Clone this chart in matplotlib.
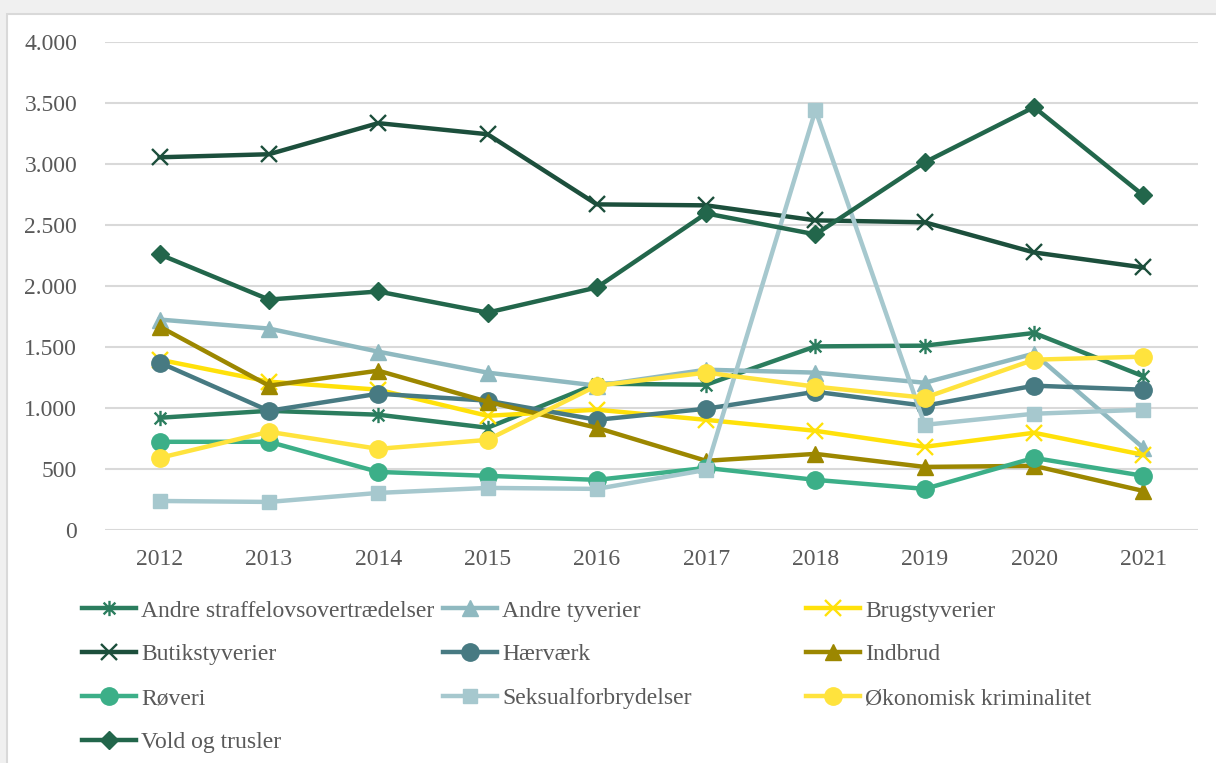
import numpy as np
import matplotlib.pyplot as plt
from matplotlib.patches import Rectangle
from matplotlib.lines import Line2D
from matplotlib.path import Path

plt.rcParams['font.family'] = ['Liberation Serif', 'DejaVu Serif']

years = ["2012", "2013", "2014", "2015", "2016", "2017", "2018", "2019", "2020", "2021"]

andre_straffelov = [920, 977, 945, 838, 1199, 1191, 1505, 1511, 1615, 1260]
andre_tyverier = [1725, 1651, 1462, 1290, 1183, 1314, 1290, 1207, 1446, 673]
brugstyverier = [1396, 1216, 1150, 936, 986, 903, 813, 682, 797, 616]
butikstyverier = [3055, 3080, 3335, 3244, 2669, 2661, 2538, 2522, 2275, 2152]
haervaerk = [1372, 977, 1117, 1060, 903, 994, 1133, 1018, 1183, 1150]
indbrud = [1667, 1183, 1306, 1051, 838, 567, 624, 517, 526, 320]
roveri = [723, 723, 476, 444, 411, 509, 411, 337, 591, 444]
seksual = [238, 230, 304, 345, 337, 493, 3441, 862, 953, 986]
okonomisk = [591, 805, 665, 739, 1183, 1290, 1175, 1084, 1396, 1421]
vold = [2259, 1889, 1955, 1782, 1988, 2595, 2423, 3014, 3466, 2743]

# excel style star: an x with a vertical bar through it
star = Path([(-1, -1), (1, 1), (-1, 1), (1, -1), (0, -1.3), (0, 1.3)],
            [Path.MOVETO, Path.LINETO, Path.MOVETO, Path.LINETO, Path.MOVETO, Path.LINETO])

series = [
    ("Andre straffelovsovertrædelser", andre_straffelov, "#2b7d5e", star, 11),
    ("Andre tyverier", andre_tyverier, "#8fb9c0", "^", 12),
    ("Brugstyverier", brugstyverier, "#ffe10a", "x", 11),
    ("Butikstyverier", butikstyverier, "#1c4f3c", "x", 11),
    ("Hærværk", haervaerk, "#477a82", "o", 12.5),
    ("Indbrud", indbrud, "#9c8700", "^", 12),
    ("Røveri", roveri, "#3caf88", "o", 12.5),
    ("Seksualforbrydelser", seksual, "#a6c8ce", "s", 10.5),
    ("Økonomisk kriminalitet", okonomisk, "#ffe33d", "o", 12.5),
    ("Vold og trusler", vold, "#22664b", "D", 9.5),
]

fig = plt.figure(figsize=(12.16, 7.63), dpi=100)
fig.patch.set_facecolor("#f0f0f0")
fig.patches.append(Rectangle((7 / 1216, -0.01), 1.1, 1 - 14 / 763 + 0.01,
                             transform=fig.transFigure, facecolor="white",
                             edgecolor="#d9d9d9", lw=1.5, zorder=-10))

ax = fig.add_axes([105 / 1216, 1 - 530 / 763, (1198 - 105) / 1216, (530 - 42) / 763])
ax.set_facecolor("none")
ax.set_zorder(1)
x = np.arange(len(years))

handles = []
for name, vals, col, mk, ms in series:
    mew = 1.7 if mk is star or mk == "x" else 1
    ax.plot(x, vals, color=col, lw=3.2, marker=mk, markersize=ms,
            markeredgewidth=mew, markeredgecolor=col, markerfacecolor=col,
            clip_on=False)
    handles.append(Line2D([], [], color=col, lw=3.2, marker=mk, markersize=ms,
                          markeredgewidth=mew, markeredgecolor=col,
                          markerfacecolor=col, label=name))

ax.set_xlim(-0.5, len(years) - 0.5)
ax.set_ylim(0, 4000)
ax.set_yticks(np.arange(0, 4001, 500))
ax.set_yticklabels(["0", "500", "1.000", "1.500", "2.000", "2.500", "3.000", "3.500", "4.000"])
ax.set_xticks(x)
ax.set_xticklabels(years)
ax.grid(axis="y", color="#d9d9d9", lw=1.5)
ax.set_axisbelow(True)
for s in ax.spines.values():
    s.set_visible(False)
ax.tick_params(length=0, labelsize=17, labelcolor="#595959")
ax.tick_params(axis="y", pad=20)
ax.tick_params(axis="x", pad=14)

# legend: three fixed-width columns like the original
col_x = [82, 443, 806]
for c in range(3):
    hs = handles[c::3]
    leg = fig.legend(handles=hs, loc="upper left",
                     bbox_to_anchor=(col_x[c] / 1216, 1 - 600 / 763),
                     frameon=False, fontsize=17, labelcolor="#595959",
                     handlelength=2.3, handletextpad=0.2, labelspacing=0.95,
                     borderaxespad=0, borderpad=0)

fig.savefig("out.png", dpi=100, facecolor=fig.get_facecolor())
